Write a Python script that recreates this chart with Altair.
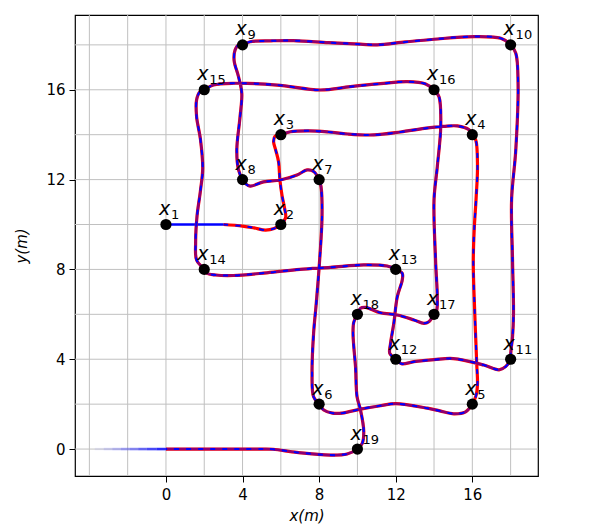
import altair as alt
import pandas as pd

# ---------------- data ----------------
wp_x = [0, 6, 6, 16, 16, 8, 8, 4, 4, 18, 18, 12, 12, 2, 2, 14, 14, 10, 10]
wp_y = [10, 10, 14, 14, 2, 2, 12, 12, 18, 18, 4, 4, 8, 8, 16, 16, 6, 6, 0]
wp_num = ["1", "2", "3", "4", "5", "6", "7", "8", "9", "10",
          "11", "12", "13", "14", "15", "16", "17", "18", "19"]

# blue-only start near x1
start_x = [0.0, 3.0]
start_y = [10.0, 10.0]

# fading blue tail at y = 0
fade_x = [-3.72, -3.25, -2.8, -2.35, -1.9, -1.45, -1.0, -0.5, 0.0]
fade_op = [0.05, 0.13, 0.22, 0.32, 0.42, 0.55, 0.68, 0.82]

seg_a_x = [3.0, 4.0, 4.6, 5.2, 5.65, 6.0]
seg_a_y = [10.0, 9.93, 9.85, 9.75, 9.82, 10.0]
seg_2_3_x = [6.0, 6.25, 6.2, 6.06, 5.95, 5.88, 5.72, 5.62, 5.7, 6.0]
seg_2_3_y = [10.0, 10.3, 10.7, 11.3, 12.0, 12.8, 13.35, 13.7, 13.93, 14.0]
seg_3_4_x = [6.0, 6.5, 7.5, 8.5, 9.5, 10.85, 12.25, 13.5, 14.5, 15.22, 15.83, 16.0]
seg_3_4_y = [14.0, 14.13, 14.17, 14.12, 14.03, 13.99, 14.12, 14.28, 14.37, 14.39, 14.22, 14.0]
seg_4_5_x = [16.0, 16.18, 16.27, 16.2, 16.1, 16.05, 16.13, 16.23, 16.27, 16.2, 16.0]
seg_4_5_y = [14.0, 13.76, 12.6, 11.2, 9.8, 8.3, 6.0, 3.8, 2.9, 2.4, 2.0]
seg_5_6_x = [16.0, 15.65, 15.04, 14.3, 13.65, 12.0, 11.2, 10.16, 9.2, 8.7, 8.24, 8.0]
seg_5_6_y = [2.0, 1.66, 1.57, 1.7, 1.82, 2.02, 1.93, 1.78, 1.6, 1.6, 1.74, 2.0]
seg_6_7_x = [8.0, 7.71, 7.63, 7.71, 7.85, 8.0, 8.15, 8.1, 8.0]
seg_6_7_y = [2.0, 2.33, 3.4, 5.15, 6.5, 8.1, 10.35, 11.68, 12.0]
seg_7_8_x = [8.0, 7.71, 7.37, 6.84, 5.97, 5.1, 4.4, 4.14, 4.0]
seg_7_8_y = [12.0, 12.36, 12.43, 12.2, 11.98, 11.9, 11.71, 11.83, 12.0]
seg_8_9_x = [4.0, 3.79, 3.7, 3.87, 3.96, 3.79, 3.56, 3.61, 3.79, 4.0]
seg_8_9_y = [12.0, 12.43, 13.32, 14.8, 15.84, 16.58, 17.3, 17.77, 18.0, 18.0]
seg_9_10_x = [4.0, 4.4, 5.5, 6.67, 8.5, 10.16, 11.03, 12.5, 14.0, 16.09, 17.49, 18.0]
seg_9_10_y = [18.0, 18.14, 18.18, 18.19, 18.1, 18.03, 18.0, 18.13, 18.25, 18.37, 18.29, 18.0]
seg_10_11_x = [18.0, 18.27, 18.39, 18.27, 18.05, 18.1, 18.15, 18.1, 18.01, 18.0]
seg_10_11_y = [18.0, 17.63, 16.29, 13.32, 11.09, 8.42, 6.04, 5.0, 4.3, 4.0]
seg_11_12_x = [18.0, 17.75, 17.4, 16.6, 15.0, 14.0, 12.95, 12.3, 12.0]
seg_11_12_y = [4.0, 3.68, 3.53, 3.74, 4.03, 3.98, 3.89, 3.8, 4.0]
seg_12_13_x = [12.0, 11.69, 11.73, 11.9, 12.08, 12.34, 12.34, 12.0]
seg_12_13_y = [4.0, 4.26, 4.71, 5.6, 6.78, 7.53, 7.83, 8.0]
seg_13_14_x = [12.0, 11.55, 10.33, 8.59, 7.0, 5.27, 3.52, 2.6, 2.13, 2.0]
seg_13_14_y = [8.0, 8.15, 8.2, 8.09, 8.0, 7.85, 7.73, 7.75, 7.83, 8.0]
seg_14_15_x = [2.0, 1.6, 1.55, 1.62, 1.8, 1.92, 1.8, 1.6, 1.6, 1.78, 2.0]
seg_14_15_y = [8.0, 8.42, 9.2, 10.35, 11.5, 12.5, 13.8, 14.8, 15.55, 15.92, 16.0]
seg_15_16_x = [2.0, 2.48, 3.52, 5.8, 8.06, 9.63, 11.2, 12.6, 13.56, 14.0]
seg_15_16_y = [16.0, 16.21, 16.29, 16.21, 15.99, 16.14, 16.27, 16.36, 16.26, 16.0]
seg_16_17_x = [14.0, 14.26, 14.35, 14.17, 14.0, 14.08, 14.17, 14.14, 14.0]
seg_16_17_y = [16.0, 15.69, 14.36, 12.57, 11.09, 8.42, 6.78, 6.19, 6.0]
seg_17_18_x = [14.0, 13.73, 13.47, 12.95, 12.08, 11.2, 10.42, 10.16, 10.0]
seg_17_18_y = [6.0, 5.67, 5.6, 5.75, 5.97, 6.07, 6.31, 6.27, 6.0]
seg_18_19_x = [10.0, 9.81, 9.77, 9.81, 9.9, 9.98, 10.16, 10.33, 10.25, 10.0]
seg_18_19_y = [6.0, 5.65, 5.15, 4.56, 3.67, 2.33, 1.74, 0.8, 0.25, 0.0]
seg_19_end_x = [10.0, 9.46, 8.59, 6.84, 5.6, 5.0, 3.0, 0.0]
seg_19_end_y = [0.0, -0.22, -0.27, -0.15, -0.01, 0.0, 0.0, 0.0]

grid_x = [-4, -2, 0, 2, 4, 6, 8, 10, 12, 14, 16, 18]
grid_y = [0, 2, 4, 6, 8, 10, 12, 14, 16, 18]
tick_vals = [0, 4, 8, 12, 16]

# ---------------- tables ----------------
segments = [
    ("a", seg_a_x, seg_a_y, 0), ("2_3", seg_2_3_x, seg_2_3_y, 0),
    ("3_4", seg_3_4_x, seg_3_4_y, 1), ("4_5", seg_4_5_x, seg_4_5_y, 0),
    ("5_6", seg_5_6_x, seg_5_6_y, 2), ("6_7", seg_6_7_x, seg_6_7_y, 2),
    ("7_8", seg_7_8_x, seg_7_8_y, 2), ("8_9", seg_8_9_x, seg_8_9_y, 2),
    ("9_10", seg_9_10_x, seg_9_10_y, 2), ("10_11", seg_10_11_x, seg_10_11_y, 2),
    ("11_12", seg_11_12_x, seg_11_12_y, 2), ("12_13", seg_12_13_x, seg_12_13_y, 2),
    ("13_14", seg_13_14_x, seg_13_14_y, 2), ("14_15", seg_14_15_x, seg_14_15_y, 2),
    ("15_16", seg_15_16_x, seg_15_16_y, 2), ("16_17", seg_16_17_x, seg_16_17_y, 2),
    ("17_18", seg_17_18_x, seg_17_18_y, 2), ("18_19", seg_18_19_x, seg_18_19_y, 2),
    ("19_end", seg_19_end_x, seg_19_end_y, 2),
]
rows = []
over_rows = []
for k, (name, xs, ys, grp) in enumerate(segments):
    for j, (xv, yv) in enumerate(zip(xs, ys)):
        if not (k > 0 and j == 0):
            rows.append({"i": len(rows), "x": xv, "y": yv})
        if grp > 0:
            prev_grp = segments[k - 1][3] if k > 0 else 0
            if j == 0 and prev_grp == grp:
                continue
            over_rows.append({"i": len(over_rows), "x": xv, "y": yv, "g": grp})
path_df = pd.DataFrame(rows)
over_df = pd.DataFrame(over_rows)
start_df = pd.DataFrame({"i": [0, 1], "x": start_x, "y": start_y})
fade_df = pd.DataFrame({"x": fade_x[:-1], "x2": fade_x[1:], "y": [0.0] * len(fade_op), "op": fade_op})
wp_df = pd.DataFrame({"x": wp_x, "y": wp_y, "num": wp_num, "lab": ["x"] * len(wp_x)})
gx_df = pd.DataFrame({"x": grid_x})
gy_df = pd.DataFrame({"y": grid_y})

# ---------------- encodings ----------------
FONT = "DejaVu Sans"
xscale = alt.Scale(domain=[-4.75, 19.43], nice=False, zero=False)
yscale = alt.Scale(domain=[-1.2, 19.33], nice=False, zero=False)
xaxis = alt.Axis(values=tick_vals, grid=False, domain=False, tickSize=6, tickColor="black",
                 labelFontSize=15, labelFont=FONT, labelColor="black", labelPadding=5,
                 title="x(m)", titleFont=FONT, titleFontSize=15, titleFontStyle="italic",
                 titleFontWeight="normal", titleColor="black", titlePadding=6)
yaxis = alt.Axis(values=tick_vals, grid=False, domain=False, tickSize=6, tickColor="black",
                 labelFontSize=15, labelFont=FONT, labelColor="black", labelPadding=4,
                 title="y(m)", titleFont=FONT, titleFontSize=15, titleFontStyle="italic",
                 titleFontWeight="normal", titleColor="black", titlePadding=16)


def X(f="x"):
    return alt.X(f"{f}:Q", scale=xscale, axis=xaxis)


def Y(f="y"):
    return alt.Y(f"{f}:Q", scale=yscale, axis=yaxis)


grid_v = alt.Chart(gx_df).mark_rule(color="#c0c0c0", strokeWidth=1).encode(x=X())
grid_h = alt.Chart(gy_df).mark_rule(color="#c0c0c0", strokeWidth=1).encode(y=Y())

fade = alt.Chart(fade_df).mark_rule(color="#0000ff", strokeWidth=2.6).encode(
    x=X(), x2="x2:Q", y=Y(), opacity=alt.Opacity("op:Q", scale=None, legend=None))

start = alt.Chart(start_df).mark_line(color="#0000ff", strokeWidth=2.6).encode(
    x=X(), y=Y(), order="i:Q")

red = alt.Chart(path_df).mark_line(color="#ff0000", strokeWidth=3.2, interpolate="catmull-rom").encode(
    x=X(), y=Y(), order="i:Q")

purple = alt.Chart(over_df).mark_line(color="#0000ff", strokeWidth=2.6, opacity=0.45,
                                      interpolate="catmull-rom").encode(
    x=X(), y=Y(), order="i:Q", detail="g:N")

dashes = alt.Chart(path_df).mark_line(color="#0000ff", strokeWidth=2, strokeDash=[5, 7],
                                      interpolate="catmull-rom").encode(
    x=X(), y=Y(), order="i:Q")

pts = alt.Chart(wp_df).mark_point(filled=True, color="black", size=125, opacity=1, shape="circle").encode(
    x=X(), y=Y())

lab_x = alt.Chart(wp_df).mark_text(align="left", baseline="alphabetic", dx=-7, dy=-9.5,
                                   fontSize=19, fontStyle="italic", font=FONT, color="black").encode(
    x=X(), y=Y(), text="lab:N")
lab_n = alt.Chart(wp_df).mark_text(align="left", baseline="alphabetic", dx=5, dy=-5.5,
                                   fontSize=13, font=FONT, color="black").encode(
    x=X(), y=Y(), text="num:N")

chart = alt.layer(grid_v, grid_h, fade, start, red, purple, dashes, pts, lab_x, lab_n).properties(
    width=463, height=461,
    autosize=alt.AutoSizeParams(type="none"),
    padding={"left": 67, "top": 7, "right": 40, "bottom": 50},
    background="white",
).configure_view(stroke="black", strokeWidth=1.2)

chart.save("out.html", embed_options={"renderer": "svg", "actions": False})
